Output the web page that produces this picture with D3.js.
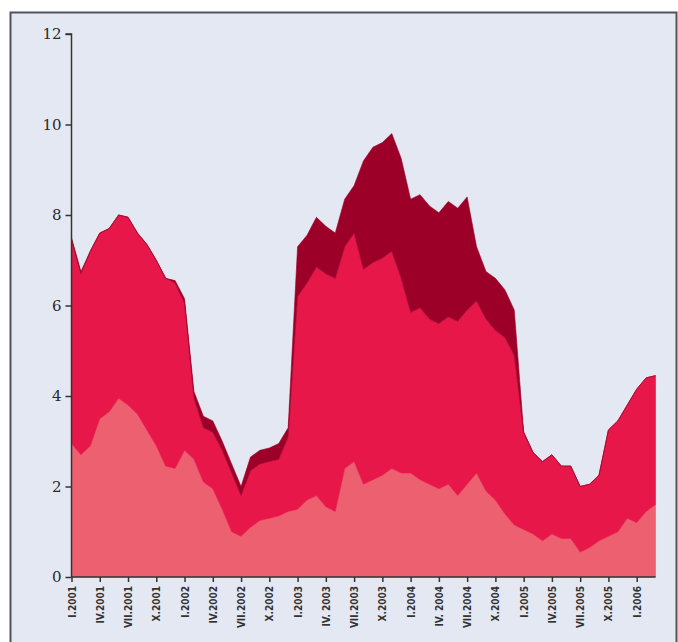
<!DOCTYPE html>
<html>
<head>
<meta charset="utf-8">
<script src="https://cdn.jsdelivr.net/npm/d3@7"></script>
<style>
  html, body { margin: 0; padding: 0; background: #ffffff; }
  svg { display: block; }
</style>
</head>
<body>
<svg id="chart" width="678" height="642"></svg>
<script>
// Month index 0 = I.2001 ... 62 = III.2006
const startYear = 2001;
const monthCount = 63;

// Series values (stacked)
const seriesLow = [2.95,2.7,2.9,3.5,3.65,3.95,3.8,3.6,3.25,2.9,2.45,2.4,2.8,2.6,2.1,1.95,1.5,1.0,0.9,1.1,1.25,1.3,1.35,1.45,
  1.5,1.7,1.8,1.55,1.45,2.4,2.55,2.05,2.15,2.25,2.4,2.3,2.3,2.15,2.05,1.95,2.05,1.8,2.05,2.3,1.9,1.7,1.4,1.15,
  1.05,0.95,0.8,0.95,0.85,0.85,0.55,0.65,0.8,0.9,1.0,1.3,1.2,1.45,1.6];
const seriesMid = [4.5,4.0,4.3,4.1,4.05,4.05,4.15,4.0,4.1,4.1,4.15,4.1,3.25,1.35,1.2,1.25,1.3,1.3,0.9,1.25,1.25,1.25,1.25,1.65,
  4.7,4.8,5.05,5.15,5.15,4.9,5.05,4.75,4.8,4.8,4.8,4.3,3.55,3.8,3.65,3.65,3.7,3.85,3.85,3.8,3.8,3.75,3.9,3.75,
  2.15,1.8,1.75,1.75,1.6,1.6,1.45,1.4,1.45,2.35,2.45,2.5,2.95,2.95,2.85];
const seriesTop = [0.05,0.05,0,0,0,0,0,0,0,0,0,0.05,0.1,0.15,0.25,0.25,0.2,0.2,0.2,0.3,0.3,0.3,0.35,0.2,
  1.1,1.05,1.1,1.05,1.0,1.05,1.05,2.4,2.55,2.55,2.6,2.65,2.5,2.5,2.5,2.45,2.55,2.5,2.5,1.2,1.05,1.15,1.05,1.0,
  0,0,0,0,0,0,0,0,0,0,0,0,0,0,0];

const tickMonths = [0,3,6,9,12,15,18,21,24,27,30,33,36,39,42,45,48,51,54,57,60];
const tickLabels = ["I.2001","IV.2001","VII.2001","X.2001","I.2002","IV.2002","VII.2002","X.2002",
  "I.2003","IV. 2003","VII.2003","X.2003","I.2004","IV. 2004","VII.2004","X.2004",
  "I.2005","IV.2005","VII.2005","X.2005","I.2006"];
const yTicks = [0,2,4,6,8,10,12];

const layerKeys = ["low","mid","top"];
const layerColors = ["#ec6070","#e8174a","#9c0028"];

const table = d3.range(monthCount).map(i => ({
  i: i, low: seriesLow[i], mid: seriesMid[i], top: seriesTop[i]
}));

const svg = d3.select("#chart");

// panel background with border
svg.append("rect")
  .attr("x", 10.5).attr("y", 12.5)
  .attr("width", 666).attr("height", 640)
  .attr("fill", "#e4e8f2")
  .attr("stroke", "#50545a").attr("stroke-width", 2);

const x = d3.scaleLinear().domain([0, 60]).range([71.5, 636.7]);
const y = d3.scaleLinear().domain([0, 12]).range([577, 34]);

const stack = d3.stack().keys(layerKeys);
const layers = stack(table);

const area = d3.area()
  .x(d => x(d.data.i))
  .y0(d => y(d[0]))
  .y1(d => y(d[1]))
  .curve(d3.curveLinear);

svg.append("g").selectAll("path")
  .data(layers)
  .join("path")
  .attr("d", area)
  .attr("fill", (d, k) => layerColors[k])
  .attr("stroke", (d, k) => layerColors[k])
  .attr("stroke-width", 0.6);

// Y axis
const yAxis = d3.axisLeft(y).tickValues(yTicks).tickSize(6).tickPadding(4).tickFormat(d3.format("d"));
const gy = svg.append("g").attr("transform", `translate(${x(0)},0)`).call(yAxis);
gy.select(".domain").attr("stroke", "#333").attr("stroke-width", 1.5).attr("d", `M-6,${y(12)}H0V${y(0)}`);
gy.selectAll(".tick line").attr("stroke", "#333").attr("stroke-width", 1.5);
gy.selectAll(".tick text")
  .attr("font-family", "'DejaVu Serif', serif")
  .attr("font-size", 15)
  .attr("fill", "#2a2a2a");

// X axis
const xAxis = d3.axisBottom(x).tickValues(tickMonths).tickSize(5).tickFormat((d, k) => tickLabels[k]);
const gx = svg.append("g").attr("transform", `translate(0,${y(0)})`).call(xAxis);
gx.select(".domain").attr("stroke", "#333").attr("stroke-width", 1.5)
  .attr("d", `M${x(0)},0H${x(62)}`);
gx.selectAll(".tick line").attr("stroke", "#333").attr("stroke-width", 1.5);
gx.selectAll(".tick text")
  .attr("font-family", "'DejaVu Sans Condensed', 'DejaVu Sans', sans-serif")
  .attr("font-weight", "bold")
  .attr("font-size", 10)
  .attr("fill", "#333")
  .attr("text-anchor", "end")
  .attr("transform", "rotate(-90)")
  .attr("x", -9)
  .attr("y", 0)
  .attr("dy", "0.35em");
</script>
</body>
</html>
